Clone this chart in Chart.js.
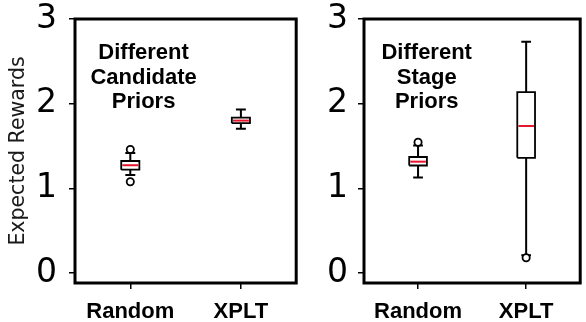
<!DOCTYPE html>
<html><head><meta charset="utf-8">
<script src="https://cdn.jsdelivr.net/npm/chart.js@4.4.1/dist/chart.umd.min.js"></script>
<style>
html,body{margin:0;padding:0;background:#fff;overflow:hidden;width:586px;height:322px;}
canvas{position:absolute;top:0;}
#c1{left:0}
#c2{left:302px}
</style></head><body>
<canvas id="c1" width="302" height="322"></canvas>
<canvas id="c2" width="284" height="322"></canvas>
<script>
const categories = ['Random', 'XPLT'];
const yTicks = [0, 1, 2, 3];
const yTitle = 'Expected Rewards';

// Panel 1: Different Candidate Priors
const p1Note = ['Different', 'Candidate', 'Priors'];
const p1Q1 = [1.22, 1.77];
const p1Median = [1.273, 1.80];
const p1Q3 = [1.323, 1.835];
const p1WhiskerLow = [1.157, 1.705];
const p1WhiskerHigh = [1.417, 1.93];
const p1Outliers = [[1.078, 1.46], []];

// Panel 2: Different Stage Priors
const p2Note = ['Different', 'Stage', 'Priors'];
const p2Q1 = [1.27, 1.36];
const p2Median = [1.315, 1.736];
const p2Q3 = [1.37, 2.137];
const p2WhiskerLow = [1.128, 0.21];
const p2WhiskerHigh = [1.505, 2.732];
const p2Outliers = [[1.545], [0.18]];

const BOX_HALF = 0.082, CAP_HALF = 0.045;
const MEDIAN_COLOR = '#e8152f';

function buildDatasets(q1, med, q3, lo, hi, outs) {
  const ds = [];
  categories.forEach((c, i) => {
    const x = i + 1;
    const line = (data, color, width, order) => ({
      type: 'line', data, borderColor: color, borderWidth: width,
      pointRadius: 0, fill: false, tension: 0, order, clip: false
    });
    ds.push(line([{x, y: q3[i]}, {x, y: hi[i]}, {x: x - CAP_HALF, y: hi[i]}, {x: x + CAP_HALF, y: hi[i]}], '#000', 2, 3));
    ds.push(line([{x, y: q1[i]}, {x, y: lo[i]}, {x: x - CAP_HALF, y: lo[i]}, {x: x + CAP_HALF, y: lo[i]}], '#000', 2, 3));
    ds.push(line([{x: x - BOX_HALF, y: q1[i]}, {x: x + BOX_HALF, y: q1[i]}, {x: x + BOX_HALF, y: q3[i]},
                  {x: x - BOX_HALF, y: q3[i]}, {x: x - BOX_HALF, y: q1[i]}], '#000', 1.8, 2));
    ds.push(line([{x: x - BOX_HALF + 0.01, y: med[i]}, {x: x + BOX_HALF - 0.01, y: med[i]}], MEDIAN_COLOR, 2, 1));
    if (outs[i].length) {
      ds.push({
        type: 'scatter', data: outs[i].map(v => ({x, y: v})),
        pointRadius: 3.6, pointBorderWidth: 1.8, pointBackgroundColor: '#fff',
        pointBorderColor: '#000', order: 0, clip: false
      });
    }
  });
  return ds;
}

const framePlugin = {
  id: 'frame',
  afterDraw(chart) {
    const {ctx, chartArea: a} = chart;
    ctx.save();
    ctx.strokeStyle = '#000';
    ctx.lineWidth = 3;
    ctx.strokeRect(a.left, a.top, a.right - a.left, a.bottom - a.top);
    ctx.restore();
  }
};

const notePlugin = {
  id: 'note',
  afterDatasetsDraw(chart, args, opts) {
    const {ctx, scales} = chart;
    ctx.save();
    ctx.fillStyle = '#000';
    ctx.font = 'bold 22px "Liberation Sans", Arial, sans-serif';
    ctx.textAlign = 'center';
    ctx.textBaseline = 'alphabetic';
    opts.lines.forEach((t, k) => {
      ctx.fillText(t, scales.x.getPixelForValue(opts.x), scales.y.getPixelForValue(opts.baselines[k]));
    });
    ctx.restore();
  }
};

function makeChart(id, datasets, note, noteX, yWidth, showTitle, padRight, tickPad) {
  return new Chart(document.getElementById(id), {
    type: 'scatter',
    data: {datasets},
    plugins: [framePlugin, notePlugin],
    options: {
      responsive: false, animation: false, devicePixelRatio: 1,
      layout: {padding: {top: 19, right: padRight, left: 0, bottom: 0}},
      plugins: {
        legend: {display: false}, tooltip: {enabled: false},
        note: {lines: note, x: noteX, baselines: [2.533, 2.238, 1.949]}
      },
      scales: {
        x: {
          type: 'linear', min: 0.5, max: 2.5,
          grid: {display: true, drawOnChartArea: false, drawTicks: true, tickLength: 6, color: '#000', lineWidth: 1.5},
          border: {display: false},
          afterBuildTicks: s => { s.ticks = categories.map((c, i) => ({value: i + 1})); },
          afterFit: s => { s.height = 39; s.paddingLeft = 0; s.paddingRight = 0; },
          ticks: {
            autoSkip: false, maxRotation: 0, padding: 10, color: '#000',
            font: {family: '"Liberation Sans", Arial, sans-serif', size: 22, weight: 'bold', lineHeight: 1.2},
            callback: v => categories[Math.round(v) - 1] || ''
          }
        },
        y: {
          type: 'linear', min: -0.118, max: 3,
          grid: {display: true, drawOnChartArea: false, drawTicks: true, tickLength: 6, color: '#000', lineWidth: 1.5},
          border: {display: false},
          afterBuildTicks: s => { s.ticks = yTicks.map(v => ({value: v})); },
          afterFit: s => { s.width = yWidth; s.paddingTop = 0; s.paddingBottom = 0; },
          ticks: {
            padding: tickPad, color: '#000',
            font: {family: '"DejaVu Sans", sans-serif', size: 33, lineHeight: 1},
            callback: v => String(v)
          },
          title: {
            display: showTitle, text: yTitle, color: '#1a1a1a', padding: {top: 6, bottom: 0},
            font: {family: '"DejaVu Sans", sans-serif', size: 20.5}
          }
        }
      }
    }
  });
}

makeChart('c1', buildDatasets(p1Q1, p1Median, p1Q3, p1WhiskerLow, p1WhiskerHigh, p1Outliers), p1Note, 1.12, 75, true, 3, 12);
makeChart('c2', buildDatasets(p2Q1, p2Median, p2Q3, p2WhiskerLow, p2WhiskerHigh, p2Outliers), p2Note, 1.08, 62, false, 1, 10);
</script>
</body></html>
